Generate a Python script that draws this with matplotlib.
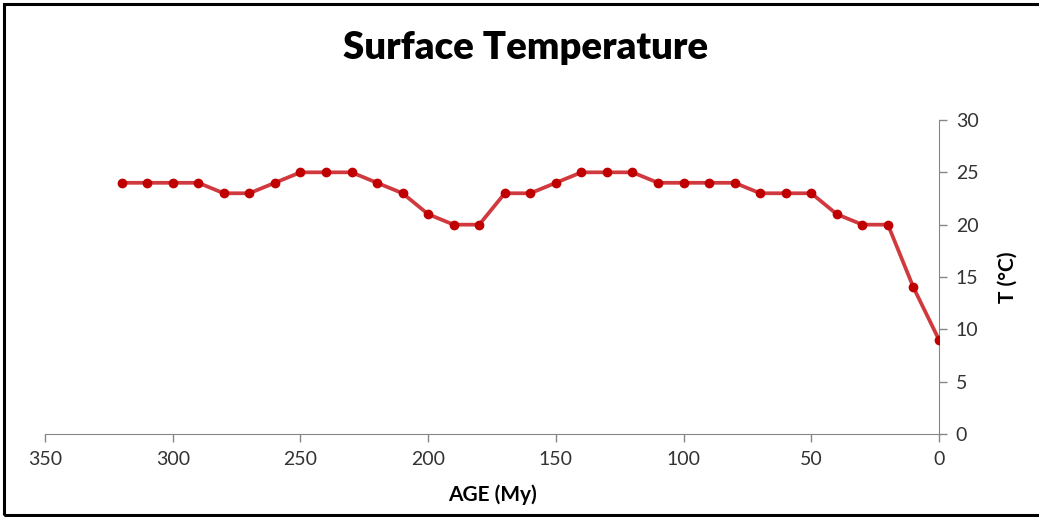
import numpy as np
import matplotlib
matplotlib.use('agg')
import matplotlib.pyplot as plt
from matplotlib.patches import Rectangle

# ages in My and surface temperatures in deg C
age = [320, 310, 300, 290, 280, 270, 260, 250, 240, 230, 220, 210, 200,
       190, 180, 170, 160, 150, 140, 130, 120, 110, 100, 90, 80, 70, 60,
       50, 40, 30, 20, 10, 0]
temp = [24, 24, 24, 24, 23, 23, 24, 25, 25, 25, 24, 23, 21,
        20, 20, 23, 23, 24, 25, 25, 25, 24, 24, 24, 24, 23, 23,
        23, 21, 20, 20, 14, 9]
xticks = [350, 300, 250, 200, 150, 100, 50, 0]
yticks = [0, 5, 10, 15, 20, 25, 30]

plt.rcParams['font.family'] = ['Lato', 'DejaVu Sans']

W, H = 1039, 517
fig = plt.figure(figsize=(W/100, H/100), dpi=100)
ax = fig.add_axes([45/W, (H-434)/H, (939-45)/W, (434-120)/H])

ax.plot(age, temp, color='#d03a3f', lw=2.7, zorder=2)
ax.plot(age, temp, 'o', color='#c00000', ms=6, zorder=3)

ax.set_xlim(350, 0)
ax.set_ylim(0, 30)
ax.set_xticks(xticks)
ax.set_yticks(yticks)

gray = '#868686'
for s in ['top', 'left']:
    ax.spines[s].set_visible(False)
for s in ['bottom', 'right']:
    ax.spines[s].set_color(gray)
ax.yaxis.tick_right()
ax.yaxis.set_label_position('right')
ax.tick_params(axis='both', colors=gray, labelcolor='#333333', labelsize=14,
               length=6, width=1, direction='out')
ax.tick_params(axis='x', pad=6)
ax.tick_params(axis='y', pad=6)

ax.set_xlabel('AGE (My)', fontsize=15, fontweight='bold', labelpad=12)
ax.set_ylabel('T (°C)', fontsize=15, fontweight='bold', labelpad=14)

fig.text(526/W, 1-48/H, 'Surface Temperature', ha='center', va='center',
         fontsize=27.5, fontweight='heavy')

# black frame round the chart (right edge is cut off)
fig.patches.append(Rectangle((4/W, 2/H), 1.2, 1-6/H, transform=fig.transFigure,
                             fill=False, edgecolor='black', lw=2.2))

fig.savefig('out.png', dpi=100)
